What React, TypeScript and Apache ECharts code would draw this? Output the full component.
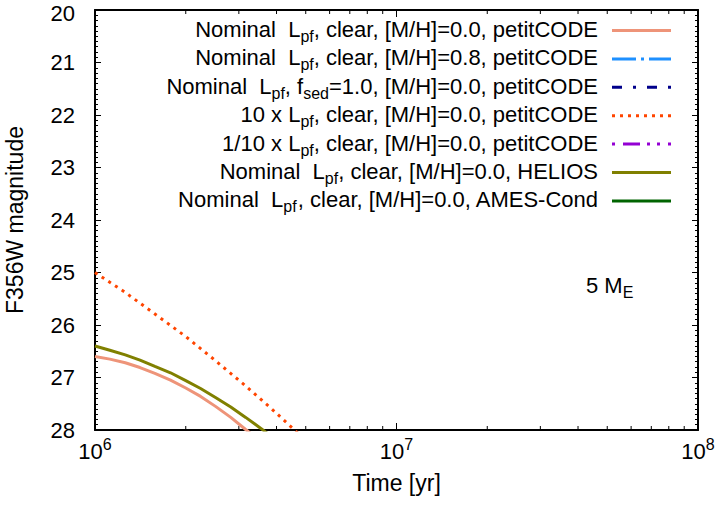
import React, { useEffect, useRef } from "react";
import * as echarts from "echarts";

const FONT = '"Liberation Sans", Arial, Helvetica, sans-serif';

// Legend labels (rich text: {s|...} is a subscript)
const legendLabels = [
  "Nominal  L{s|pf}, clear, [M/H]=0.0, petitCODE",
  "Nominal  L{s|pf}, clear, [M/H]=0.8, petitCODE",
  "Nominal  L{s|pf}, f{s|sed}=1.0, [M/H]=0.0, petitCODE",
  "10 x L{s|pf}, clear, [M/H]=0.0, petitCODE",
  "1/10 x L{s|pf}, clear, [M/H]=0.0, petitCODE",
  "Nominal  L{s|pf}, clear, [M/H]=0.0, HELIOS",
  "Nominal  L{s|pf}, clear, [M/H]=0.0, AMES-Cond",
];
const seriesColors = ["#ee9479", "#1e90ff", "#00008b", "#ff4500", "#9400d3", "#808000", "#006400"];
const seriesDash: (number[] | "solid")[] = [
  "solid",
  [24, 5, 3, 5],
  [10, 11, 3, 11],
  [3, 5],
  [3, 8, 17, 7, 3, 7],
  "solid",
  "solid",
];

// Time [yr] and F356W magnitude for each model track
const timeNominal = [1e6, 1.12e6, 1.26e6, 1.41e6, 1.58e6, 1.78e6, 2e6, 2.24e6, 2.51e6, 2.82e6, 3.16e6, 3.39e6];
const magNominal = [26.6, 26.65, 26.72, 26.81, 26.92, 27.05, 27.2, 27.36, 27.55, 27.76, 27.99, 28.13];

const timeMetal08: number[] = [];
const magMetal08: number[] = [];

const timeFsed: number[] = [];
const magFsed: number[] = [];

const timeTenL = [1e6, 1.26e6, 1.58e6, 2e6, 2.51e6, 3.16e6, 3.98e6, 4.79e6];
const magTenL = [25.0, 25.38, 25.79, 26.22, 26.68, 27.16, 27.67, 28.1];

const timeTenthL: number[] = [];
const magTenthL: number[] = [];

const timeHelios = [1e6, 1.12e6, 1.26e6, 1.41e6, 1.58e6, 1.78e6, 2e6, 2.24e6, 2.51e6, 2.82e6, 3.16e6, 3.55e6, 3.8e6];
const magHelios = [26.4, 26.48, 26.57, 26.67, 26.79, 26.91, 27.06, 27.21, 27.38, 27.56, 27.76, 27.97, 28.1];

const timeAmes: number[] = [];
const magAmes: number[] = [];

const tracks: [number[], number[]][] = [
  [timeNominal, magNominal],
  [timeMetal08, magMetal08],
  [timeFsed, magFsed],
  [timeTenL, magTenL],
  [timeTenthL, magTenthL],
  [timeHelios, magHelios],
  [timeAmes, magAmes],
];

// Minor ticks of the logarithmic time axis
const xMinorTicks = [
  2e6, 3e6, 4e6, 5e6, 6e6, 7e6, 8e6, 9e6,
  2e7, 3e7, 4e7, 5e7, 6e7, 7e7, 8e7, 9e7,
];

const Y_MIN = 20;
const Y_MAX = 28;

const subRich = {
  s: { fontSize: 16, lineHeight: 16, verticalAlign: "bottom", fontFamily: FONT, fill: "#000" },
};

export default function App() {
  const ref = useRef<HTMLDivElement>(null);

  useEffect(() => {
    if (!ref.current) return;
    const chart = echarts.init(ref.current, undefined, { renderer: "svg" });

    const axisLineStyle = { color: "#000", width: 2 };

    const yAxisBase = {
      type: "value",
      inverse: true,
      min: Y_MIN,
      max: Y_MAX,
      interval: 1,
      splitLine: { show: false },
      axisLine: { show: true, lineStyle: axisLineStyle },
      axisTick: { show: true, inside: true, length: 6, lineStyle: { color: "#000", width: 1 } },
      minorTick: { show: true, splitNumber: 10, length: 3, lineStyle: { color: "#000", width: 1 } },
    };

    const xAxisBase = {
      type: "log",
      logBase: 10,
      min: 1e6,
      max: 1e8,
      splitLine: { show: false },
      axisLine: { show: true, lineStyle: axisLineStyle },
      axisTick: { show: true, inside: true, length: 7, lineStyle: { color: "#000", width: 1 } },
    };

    const lineSeries = tracks.map(([t, m], i) => ({
      type: "line",
      name: "track" + i,
      xAxisIndex: 0,
      yAxisIndex: 0,
      showSymbol: false,
      symbol: "none",
      smooth: false,
      clip: true,
      data: t.map((v, k) => [v, m[k]]),
      lineStyle: {
        color: seriesColors[i],
        width: 3,
        type: seriesDash[i],
      },
      z: 10 - i,
    }));

    const minorTickSeries = {
      type: "custom",
      xAxisIndex: 0,
      yAxisIndex: 0,
      clip: false,
      silent: true,
      data: xMinorTicks.map((v) => [v, Y_MAX]),
      renderItem: (params: any, api: any) => {
        const x = api.value(0);
        const pb = api.coord([x, Y_MAX]);
        const pt = api.coord([x, Y_MIN]);
        const st = { stroke: "#000", lineWidth: 1 };
        return {
          type: "group",
          children: [
            { type: "line", shape: { x1: pb[0], y1: pb[1], x2: pb[0], y2: pb[1] - 4 }, style: st },
            { type: "line", shape: { x1: pt[0], y1: pt[1], x2: pt[0], y2: pt[1] + 4 }, style: st },
          ],
        };
      },
    };

    // Legend drawn as right-aligned labels with line samples
    const legendX = 598;
    const sampleX1 = 612;
    const sampleX2 = 671;
    const rowY0 = 30.5;
    const rowStep = 28.4;
    const legendGraphics: any[] = [];
    legendLabels.forEach((label, i) => {
      const y = rowY0 + i * rowStep;
      legendGraphics.push({
        type: "text",
        x: legendX,
        y: y - 1,
        style: {
          text: label,
          align: "right",
          verticalAlign: "middle",
          fontSize: 22,
          lineHeight: 30,
          fontFamily: FONT,
          fill: "#000",
          rich: subRich,
        },
        z: 100,
      });
      const dash = seriesDash[i];
      legendGraphics.push({
        type: "line",
        shape: { x1: sampleX1, y1: y, x2: sampleX2, y2: y },
        style: {
          stroke: seriesColors[i],
          lineWidth: 3,
          lineDash: dash === "solid" ? null : dash,
        },
        z: 100,
      });
    });

    legendGraphics.push({
      type: "text",
      x: 586,
      y: 285,
      style: {
        text: "5 M{s|E}",
        align: "left",
        verticalAlign: "middle",
        fontSize: 22,
        lineHeight: 30,
        fontFamily: FONT,
        fill: "#000",
        rich: subRich,
      },
      z: 100,
    });

    chart.setOption({
      animation: false,
      backgroundColor: "#fff",
      textStyle: { fontFamily: FONT },
      grid: { left: 95, right: 21, top: 10, bottom: 75, containLabel: false, outerBoundsMode: "none" },
      xAxis: [
        {
          ...xAxisBase,
          position: "bottom",
          name: "Time [yr]",
          nameLocation: "middle",
          nameGap: 41,
          nameTextStyle: { fontSize: 23, color: "#000", fontFamily: FONT },
          axisLabel: {
            show: true,
            margin: 6,
            color: "#000",
            fontSize: 22,
            lineHeight: 30,
            fontFamily: FONT,
            formatter: (v: number) => "10{sup|" + Math.round(Math.log10(v)) + "}",
            rich: {
              sup: { fontSize: 16, lineHeight: 16, verticalAlign: "top", color: "#000", fontFamily: FONT },
            },
          },
        },
        {
          ...xAxisBase,
          position: "top",
          axisLabel: { show: false },
        },
      ],
      yAxis: [
        {
          ...yAxisBase,
          position: "left",
          name: "F356W magnitude",
          nameLocation: "middle",
          nameGap: 69,
          nameTextStyle: { fontSize: 23, color: "#000", fontFamily: FONT },
          axisLabel: {
            show: true,
            margin: 20,
            color: "#000",
            fontSize: 22,
            fontFamily: FONT,
            // the top label is nudged down so it stays inside the page
            formatter: (v: number) => (v === Y_MIN ? "{top|" + v + "}" : String(v)),
            rich: {
              top: { fontSize: 22, fontFamily: FONT, color: "#000", padding: [6, 0, 0, 0] },
            },
          },
        },
        {
          ...yAxisBase,
          position: "right",
          axisLabel: { show: false },
        },
      ],
      graphic: legendGraphics,
      series: [...lineSeries, minorTickSeries],
    });

    return () => chart.dispose();
  }, []);

  return (
    <div
      ref={ref}
      style={{ position: "absolute", left: 0, top: 0, width: 719, height: 505, background: "#fff" }}
    />
  );
}
